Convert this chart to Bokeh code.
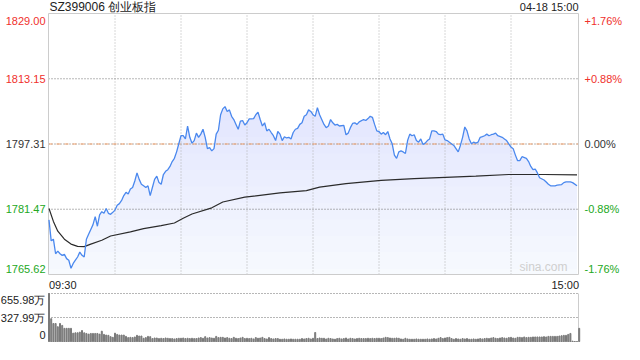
import numpy as np
from bokeh.plotting import figure
from bokeh.models import Range1d, ColumnDataSource, LabelSet, Label
from bokeh.layouts import column
from bokeh.embed import file_html
from bokeh.resources import INLINE
from bokeh.core.properties import value

# ---------------- data ----------------
TITLE = "SZ399006 创业板指"
STAMP = "04-18 15:00"
WATERMARK = "sina.com"
PREV_CLOSE = 1797.31
Y_TICKS = [1765.62, 1781.47, 1797.31, 1813.15, 1829.00]
Y_LABELS = ["1765.62", "1781.47", "1797.31", "1813.15", "1829.00"]
PCT_LABELS = ["-1.76%", "-0.88%", "0.00%", "+0.88%", "+1.76%"]
TIME_LABELS = ["09:30", "15:00"]
TIME_TICKS = [0, 240]
V_GRID = [30, 60, 90, 120, 150, 180, 210]
VOL_TICKS = [0, 327.99, 655.98]
VOL_LABELS = ["0", "327.99万", "655.98万"]

price_min = [0, 1, 2, 3, 4, 5, 6, 7, 8, 9, 10, 11, 12, 13, 14, 15, 16, 17, 18, 19,
             20, 21, 22, 23, 24, 25, 26, 27, 28, 29, 30, 31, 32, 33, 34, 35, 36, 37, 38, 39,
             40, 41, 42, 43, 44, 45, 46, 47, 48, 49, 50, 51, 52, 53, 54, 55, 56, 57, 58, 59,
             60, 61, 62, 63, 64, 65, 66, 67, 68, 69, 70, 71, 72, 73, 74, 75, 76, 77, 78, 79,
             80, 81, 82, 83, 84, 85, 86, 87, 88, 89, 90, 91, 92, 93, 94, 95, 96, 97, 98, 99,
             100, 101, 102, 103, 104, 105, 106, 107, 108, 109, 110, 111, 112, 113, 114, 115, 116, 117, 118, 119,
             120, 121, 122, 123, 125, 126, 127, 128, 129, 130, 131, 132, 134, 135, 136, 137, 138, 139,
             140, 141, 143, 144, 145, 146, 147, 148, 149, 150, 151, 152, 153, 154, 155, 156, 157, 158, 159,
             160, 161, 162, 163, 164, 165, 166, 167, 168, 169, 170, 171, 172, 173, 174, 175, 176, 177, 178, 179,
             180, 181, 182, 184, 185, 186, 187, 188, 189, 190, 191, 192, 193, 194, 195, 196, 197, 198, 199,
             200, 201, 202, 203, 204, 206, 207, 208, 209, 210, 211, 212, 213, 214, 215, 217, 218, 219,
             220, 221, 222, 223, 225, 226, 227, 228, 230, 231, 233, 234, 235, 237, 238, 240]
price = [1778.90, 1773.80, 1774.19, 1770.66, 1771.28, 1770.66, 1770.27, 1770.50, 1769.48, 1769.09,
         1767.12, 1768.30, 1769.09, 1769.87, 1771.05, 1770.27, 1769.87, 1774.19, 1775.37, 1776.55,
         1777.73, 1779.69, 1777.34, 1780.08, 1780.87, 1780.47, 1781.65, 1780.47, 1780.24, 1780.71,
         1781.26, 1782.43, 1782.83, 1783.61, 1784.79, 1785.58, 1785.18, 1786.36, 1786.75, 1788.32,
         1790.29, 1788.72, 1787.54, 1787.15, 1786.75, 1787.15, 1784.79, 1786.75, 1788.72, 1789.50,
         1787.94, 1787.54, 1789.90, 1790.68, 1791.08, 1791.86, 1793.04, 1793.83, 1795.40, 1797.36,
         1799.32, 1799.32, 1798.54, 1801.68, 1798.93, 1797.51, 1798.14, 1799.95, 1798.93, 1799.71,
         1800.89, 1798.93, 1796.18, 1796.42, 1795.63, 1796.18, 1799.71, 1800.65, 1804.42, 1805.84,
         1806.39, 1805.21, 1805.60, 1804.03, 1803.25, 1802.07, 1800.89, 1802.85, 1803.01, 1801.91,
         1802.46, 1803.40, 1803.40, 1803.48, 1804.42, 1805.05, 1803.25, 1801.68, 1802.46, 1800.50,
         1800.89, 1800.10, 1799.32, 1798.14, 1800.34, 1799.71, 1798.14, 1799.08, 1798.77, 1798.93,
         1798.54, 1800.10, 1800.89, 1801.12, 1802.07, 1802.46, 1804.03, 1804.42, 1805.60, 1805.21,
         1804.42, 1804.03, 1806.15, 1804.42, 1802.07, 1801.28, 1801.68, 1803.25, 1802.46, 1801.91,
         1802.07, 1801.68, 1801.83, 1799.56, 1799.95, 1801.28, 1802.30, 1802.46,
         1802.07, 1802.70, 1803.25, 1803.01, 1803.48, 1804.03, 1803.79, 1802.07, 1800.50, 1800.34,
         1799.71, 1800.10, 1799.56, 1800.34, 1798.54, 1797.36, 1794.61, 1793.82, 1795.39,
         1795.63, 1795.39, 1795.00, 1798.14, 1799.71, 1799.32, 1799.56, 1798.14, 1797.75, 1798.54,
         1797.20, 1797.51, 1798.14, 1798.54, 1800.50, 1800.50, 1800.34, 1799.71, 1799.56, 1799.71,
         1798.30, 1798.14, 1797.75, 1796.96, 1796.18, 1795.39, 1796.96, 1798.93, 1801.44,
         1800.50, 1798.54, 1797.36, 1797.75, 1797.51, 1797.75, 1798.93, 1799.08, 1799.32, 1799.71,
         1799.32, 1799.56, 1799.71, 1799.95, 1799.32, 1798.93, 1798.54, 1798.14, 1797.36,
         1796.57, 1796.18, 1794.61, 1793.27, 1793.27, 1794.22, 1793.82, 1793.04, 1791.86,
         1791.07, 1791.23, 1790.29, 1789.11, 1788.56, 1788.09, 1787.54, 1787.15, 1787.15, 1787.31,
         1787.46, 1787.93, 1788.09, 1788.09, 1787.93, 1787.15]

avg_min = [0, 2, 4, 7, 10, 13, 16, 19, 24, 28, 37, 43, 51, 57, 61, 65, 74, 79, 89, 105,
           117, 123, 135, 151, 166, 183, 194, 209, 225, 240]
avg_price = [1781.65, 1778.51, 1776.15, 1774.19, 1773.01, 1772.46, 1772.38, 1773.01, 1773.95, 1774.97,
             1775.99, 1776.78, 1777.49, 1778.12, 1779.29, 1780.31, 1781.81, 1783.22, 1784.40, 1785.42,
             1785.97, 1786.83, 1787.70, 1788.48, 1788.88, 1789.27, 1789.50, 1789.90, 1789.90, 1789.82]

# volume in 万, one value per minute 09:30 .. 15:00
volume = [656, 312, 246, 246, 202, 246, 220, 180, 180, 180, 180,
          114, 119, 119, 128, 150, 119, 110, 101, 110, 110,
          110, 110, 101, 141, 97, 88, 84, 66, 57, 114,
          97, 88, 88, 88, 70, 53, 57, 53, 62, 84,
          75, 75, 44, 53, 70, 66, 40, 48, 48, 40,
          44, 40, 48, 44, 40, 40, 35, 40, 44, 44,
          48, 40, 44, 40, 44, 40, 40, 48, 53, 44,
          66, 48, 53, 48, 44, 70, 53, 57, 57, 48,
          53, 44, 40, 57, 44, 40, 48, 57, 40, 44,
          40, 44, 35, 53, 44, 48, 57, 40, 35, 53,
          40, 35, 40, 40, 31, 31, 35, 31, 31, 35,
          31, 31, 31, 31, 40, 35, 40, 44, 35, 44,
          123,
          40, 48, 44, 44, 35, 44, 40, 35, 31,
          40, 44, 35, 40, 48, 35, 44, 40, 35, 40,
          44, 40, 40, 40, 44, 40, 44, 40, 44, 44,
          40, 48, 57, 53, 48, 44, 44, 48, 44, 35,
          31, 44, 35, 31, 31, 31, 35, 31, 31, 31,
          31, 35, 31, 35, 40, 35, 44, 53, 40, 48,
          53, 57, 40, 31, 40, 35, 31, 40, 35, 40,
          31, 31, 35, 31, 35, 40, 35, 40, 44, 40,
          48, 53, 44, 40, 48, 53, 48, 44, 53, 57,
          48, 44, 57, 57, 53, 62, 53, 57, 57, 62,
          62, 62, 62, 62, 66, 62, 70, 70, 70, 70,
          70, 75, 79, 84, 84, 97, 110, 5, 0, 0,
          180]
vol_min = list(range(len(volume)))

# ---------------- styles / layout ----------------
FONT_NAME = "Liberation Sans"
FONT = value(FONT_NAME)
RED = "#f0302c"
GREEN = "#22a822"
DARK = "#333333"
TXT = "#222222"
LEFT_COLORS = [GREEN, GREEN, DARK, RED, RED]
EDGE_OFFSETS = [6, 0, 0, 0, -7]
VOL_OFFSETS = [7, 0, -6]
GRID = "#b0b0b0"
HGRID = "#6e6e6e"
BORDER = "#cccccc"
FILL = "#3b7be8"

W = 624
FL, FR = 48, 46            # space left / right of the chart box
FW = W - FL - FR
KX = 2.2                   # px per minute
X0 = -0.5 / KX             # keeps 30-minute grid lines on pixel centres
X1 = X0 + FW / KX
XR_START, XR_END = X0 - FL / KX, X1 + FR / KX

H1, TOP1, BOT1 = 290, 13, 16
FH1 = H1 - TOP1 - BOT1
YLO, YHI = Y_TICKS[0], Y_TICKS[-1]
KY = FH1 / (YHI - YLO)

p = figure(width=W, height=H1, x_range=Range1d(XR_START, XR_END),
           y_range=Range1d(YLO - BOT1 / KY, YHI + TOP1 / KY),
           output_backend="svg", toolbar_location=None,
           x_axis_location=None, y_axis_location=None,
           min_border=0)
p.grid.visible = False
p.outline_line_color = None
p.background_fill_color = "white"
p.border_fill_color = "white"

# gradient-like area fill under the price line
pr = np.array(price)
px = np.array(price_min)
p.varea(x=px, y1=YLO, y2=pr, fill_color=FILL, fill_alpha=0.04)
for lvl in np.arange(1767.0, 1829.0, 4.0):
    p.varea(x=px, y1=lvl, y2=np.maximum(pr, lvl), fill_color=FILL, fill_alpha=0.012)

# grid
p.segment(x0=V_GRID, x1=V_GRID, y0=YLO, y1=YHI, line_color=GRID, line_dash="1 2", line_width=1)
hy = Y_TICKS[1:-1]
p.segment(x0=X0, x1=X1, y0=hy, y1=hy, line_color=HGRID, line_dash="1 2", line_width=1)
p.segment(x0=X0, x1=X1, y0=PREV_CLOSE, y1=PREV_CLOSE, line_color="#f4a26c", line_dash="4 4", line_width=1)
# box
p.quad(left=X0, right=X1, bottom=YLO, top=YHI, fill_color=None, line_color=BORDER, line_width=1)

p.line(avg_min, avg_price, line_color="#2b2b2b", line_width=1.2)
p.line(price_min, price, line_color="#4a88ee", line_width=1.3)

lsrc = ColumnDataSource(dict(y=Y_TICKS, text=Y_LABELS, color=LEFT_COLORS, dy=EDGE_OFFSETS))
p.add_layout(LabelSet(x=X0, y="y", text="text", source=lsrc, text_color="color", y_offset="dy",
                      x_offset=-3, text_align="right", text_baseline="middle",
                      text_font=FONT, text_font_size="11px"))
rsrc = ColumnDataSource(dict(y=Y_TICKS, text=PCT_LABELS, color=LEFT_COLORS, dy=EDGE_OFFSETS))
p.add_layout(LabelSet(x=X1, y="y", text="text", source=rsrc, text_color="color", y_offset="dy",
                      x_offset=6, text_align="left", text_baseline="middle",
                      text_font=FONT, text_font_size="11px"))

p.add_layout(Label(x=FL + 1, y=H1 - 6, x_units="screen", y_units="screen", text=TITLE,
                   text_baseline="middle", text_align="left", text_font=FONT_NAME,
                   text_font_size="12px", text_color=TXT))
p.add_layout(Label(x=W - FR, y=H1 - 6, x_units="screen", y_units="screen", text=STAMP,
                   text_baseline="middle", text_align="right", text_font=FONT_NAME,
                   text_font_size="11px", text_color=TXT))
tsrc = ColumnDataSource(dict(x=TIME_TICKS, text=TIME_LABELS, align=["left", "right"], dx=[0, 2]))
p.add_layout(LabelSet(x="x", y=YLO, text="text", source=tsrc, text_align="align", x_offset="dx",
                      y_offset=-10, text_baseline="middle", text_font=FONT,
                      text_font_size="11px", text_color=TXT))
p.add_layout(Label(x=W - FR - 11, y=BOT1 + 1, x_units="screen", y_units="screen", text=WATERMARK,
                   text_baseline="bottom", text_align="right", text_font=FONT_NAME,
                   text_font_size="12px", text_color="#cfcfcf"))

# ---------------- volume panel ----------------
H2, TOP2, BOT2 = 54, 3, 3
FH2 = H2 - TOP2 - BOT2
VHI = VOL_TICKS[-1]
KV = FH2 / VHI
q = figure(width=W, height=H2, x_range=p.x_range, y_range=Range1d(-BOT2 / KV, VHI + TOP2 / KV),
           output_backend="svg", toolbar_location=None,
           x_axis_location=None, y_axis_location=None, min_border=0)
q.grid.visible = False
q.outline_line_color = None
q.segment(x0=X0, x1=X1, y0=VOL_TICKS[1:], y1=VOL_TICKS[1:], line_color=HGRID, line_dash="1 2", line_width=1)
q.segment(x0=[X0, X1, X0], x1=[X0, X1, X1], y0=[0, 0, 0], y1=[VHI, VHI, 0], line_color=BORDER, line_width=1)
q.vbar(x=vol_min, top=volume, width=0.45, color="#7a7a7a")
vsrc = ColumnDataSource(dict(y=VOL_TICKS, text=VOL_LABELS, dy=VOL_OFFSETS))
q.add_layout(LabelSet(x=X0, y="y", text="text", source=vsrc, y_offset="dy", x_offset=-3,
                      text_align="right", text_baseline="middle", text_font=FONT,
                      text_font_size="11px", text_color=TXT))

layout = column(p, q, spacing=0)
open("out.html", "w").write(file_html(layout, INLINE))
